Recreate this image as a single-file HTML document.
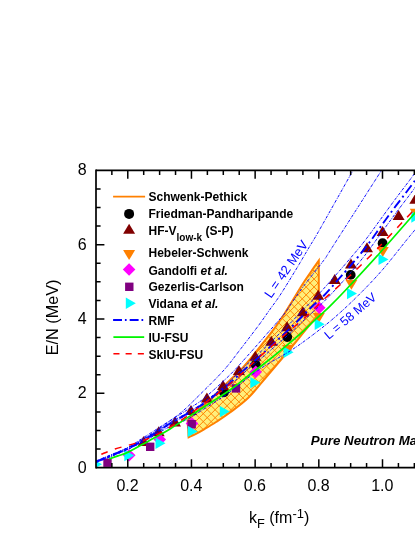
<!DOCTYPE html>
<html><head><meta charset="utf-8"><style>
html,body{margin:0;padding:0;background:#fff;}
body{width:415px;height:537px;overflow:hidden;font-family:"Liberation Sans",sans-serif;}
svg{display:block;will-change:transform;font-family:"Liberation Sans",sans-serif;}
</style></head><body>
<svg width="415" height="537" viewBox="0 0 415 537">
<rect width="415" height="537" fill="#fff"/>
<defs><clipPath id="clip"><rect x="96.0" y="170.3" width="400" height="297.2"/></clipPath></defs>
<g clip-path="url(#clip)">
<clipPath id="bandclip"><path d="M187.60 420.60 C189.00 419.17 192.63 415.10 196.00 412.00 C199.37 408.90 203.80 405.67 207.80 402.00 C211.80 398.33 216.32 393.65 220.00 390.00 C223.68 386.35 226.55 383.35 229.90 380.10 C233.25 376.85 236.80 373.92 240.10 370.50 C243.40 367.08 245.70 364.40 249.70 359.60 C253.70 354.80 259.70 347.28 264.10 341.70 C268.50 336.12 272.78 330.63 276.10 326.10 C279.42 321.57 281.35 318.60 284.00 314.50 C286.65 310.40 288.83 306.67 292.00 301.50 C295.17 296.33 299.75 288.58 303.00 283.50 C306.25 278.42 308.87 274.82 311.50 271.00 C314.13 267.18 317.58 262.33 318.80 260.60 L318.80 313.60 C317.08 315.73 311.63 322.53 308.50 326.40 C305.37 330.27 302.82 333.37 300.00 336.80 C297.18 340.23 294.82 343.13 291.60 347.00 C288.38 350.87 284.92 355.00 280.70 360.00 C276.48 365.00 271.65 370.75 266.30 377.00 C260.95 383.25 254.65 391.58 248.60 397.50 C242.55 403.42 235.42 408.42 230.00 412.50 C224.58 416.58 220.42 419.20 216.10 422.00 C211.78 424.80 207.45 427.33 204.10 429.30 C200.75 431.27 198.58 432.47 196.00 433.80 C193.42 435.13 189.83 436.72 188.60 437.30 Z"/></clipPath>
<path d="M187.60 420.60 C189.00 419.17 192.63 415.10 196.00 412.00 C199.37 408.90 203.80 405.67 207.80 402.00 C211.80 398.33 216.32 393.65 220.00 390.00 C223.68 386.35 226.55 383.35 229.90 380.10 C233.25 376.85 236.80 373.92 240.10 370.50 C243.40 367.08 245.70 364.40 249.70 359.60 C253.70 354.80 259.70 347.28 264.10 341.70 C268.50 336.12 272.78 330.63 276.10 326.10 C279.42 321.57 281.35 318.60 284.00 314.50 C286.65 310.40 288.83 306.67 292.00 301.50 C295.17 296.33 299.75 288.58 303.00 283.50 C306.25 278.42 308.87 274.82 311.50 271.00 C314.13 267.18 317.58 262.33 318.80 260.60 L318.80 313.60 C317.08 315.73 311.63 322.53 308.50 326.40 C305.37 330.27 302.82 333.37 300.00 336.80 C297.18 340.23 294.82 343.13 291.60 347.00 C288.38 350.87 284.92 355.00 280.70 360.00 C276.48 365.00 271.65 370.75 266.30 377.00 C260.95 383.25 254.65 391.58 248.60 397.50 C242.55 403.42 235.42 408.42 230.00 412.50 C224.58 416.58 220.42 419.20 216.10 422.00 C211.78 424.80 207.45 427.33 204.10 429.30 C200.75 431.27 198.58 432.47 196.00 433.80 C193.42 435.13 189.83 436.72 188.60 437.30 Z" fill="#ffee7a" stroke="none"/>
<path d="M-242.52 392.19L181.74 -32.07 M-238.56 396.15L185.70 -28.11 M-234.60 400.11L189.66 -24.15 M-230.64 404.07L193.62 -20.19 M-226.68 408.03L197.58 -16.23 M-222.72 411.99L201.54 -12.27 M-218.76 415.95L205.50 -8.31 M-214.80 419.91L209.46 -4.35 M-210.84 423.87L213.42 -0.39 M-206.88 427.83L217.38 3.57 M-202.92 431.79L221.34 7.53 M-198.96 435.75L225.30 11.49 M-195.00 439.71L229.26 15.45 M-191.04 443.67L233.22 19.41 M-187.08 447.63L237.18 23.37 M-183.12 451.59L241.14 27.33 M-179.16 455.55L245.10 31.29 M-175.20 459.51L249.06 35.25 M-171.24 463.47L253.02 39.21 M-167.28 467.43L256.98 43.17 M-163.32 471.39L260.94 47.13 M-159.36 475.35L264.90 51.09 M-155.40 479.31L268.86 55.05 M-151.44 483.27L272.82 59.01 M-147.48 487.23L276.78 62.97 M-143.52 491.19L280.74 66.93 M-139.57 495.15L284.70 70.88 M-135.61 499.11L288.66 74.84 M-131.65 503.07L292.62 78.80 M-127.69 507.03L296.58 82.76 M-123.73 510.99L300.54 86.72 M-119.77 514.95L304.50 90.68 M-115.81 518.91L308.46 94.64 M-111.85 522.87L312.42 98.60 M-107.89 526.83L316.38 102.56 M-103.93 530.79L320.34 106.52 M-99.97 534.75L324.30 110.48 M-96.01 538.71L328.26 114.44 M-92.05 542.67L332.22 118.40 M-88.09 546.63L336.18 122.36 M-84.13 550.59L340.14 126.32 M-80.17 554.55L344.10 130.28 M-76.21 558.51L348.06 134.24 M-72.25 562.47L352.02 138.20 M-68.29 566.43L355.98 142.16 M-64.33 570.39L359.94 146.12 M-60.37 574.34L363.89 150.08 M-56.41 578.30L367.85 154.04 M-52.45 582.26L371.81 158.00 M-48.49 586.22L375.77 161.96 M-44.53 590.18L379.73 165.92 M-40.57 594.14L383.69 169.88 M-36.61 598.10L387.65 173.84 M-32.65 602.06L391.61 177.80 M-28.69 606.02L395.57 181.76 M-24.73 609.98L399.53 185.72 M-20.77 613.94L403.49 189.68 M-16.81 617.90L407.45 193.64 M-12.85 621.86L411.41 197.60 M-8.89 625.82L415.37 201.56 M-4.93 629.78L419.33 205.52 M-0.97 633.74L423.29 209.48 M2.99 637.70L427.25 213.44 M6.95 641.66L431.21 217.40 M10.91 645.62L435.17 221.36 M14.87 649.58L439.13 225.32 M18.83 653.54L443.09 229.28 M22.79 657.50L447.05 233.24 M26.75 661.46L451.01 237.20 M30.71 665.42L454.97 241.16 M34.67 669.38L458.93 245.12 M38.63 673.34L462.89 249.08 M42.59 677.30L466.85 253.04 M46.55 681.26L470.81 257.00 M50.51 685.22L474.77 260.96 M54.46 689.18L478.73 264.91 M58.42 693.14L482.69 268.87 M62.38 697.10L486.65 272.83 M66.34 701.06L490.61 276.79 M70.30 705.02L494.57 280.75 M74.26 708.98L498.53 284.71 M78.22 712.94L502.49 288.67 M82.18 716.90L506.45 292.63 M86.14 720.86L510.41 296.59 M90.10 724.82L514.37 300.55 M94.06 728.78L518.33 304.51 M98.02 732.74L522.29 308.47 M101.98 736.70L526.25 312.43 M105.94 740.66L530.21 316.39 M109.90 744.62L534.17 320.35 M113.86 748.58L538.13 324.31 M117.82 752.54L542.09 328.27 M121.78 756.50L546.05 332.23 M125.74 760.46L550.01 336.19 M129.70 764.42L553.97 340.15 M133.66 768.37L557.92 344.11 M137.62 772.33L561.88 348.07 M141.58 776.29L565.84 352.03 M145.54 780.25L569.80 355.99 M149.50 784.21L573.76 359.95 M153.46 788.17L577.72 363.91 M157.42 792.13L581.68 367.87 M161.38 796.09L585.64 371.83 M165.34 800.05L589.60 375.79 M169.30 804.01L593.56 379.75 M173.26 807.97L597.52 383.71 M177.22 811.93L601.48 387.67 M181.18 815.89L605.44 391.63 M185.14 819.85L609.40 395.59 M189.10 823.81L613.36 399.55 M193.06 827.77L617.32 403.51 M197.02 831.73L621.28 407.47 M200.98 835.69L625.24 411.43 M204.94 839.65L629.20 415.39 M208.90 843.61L633.16 419.35 M212.86 847.57L637.12 423.31 M216.82 851.53L641.08 427.27 M220.78 855.49L645.04 431.23 M224.74 859.45L649.00 435.19 M228.70 863.41L652.96 439.15 M232.66 867.37L656.92 443.11 M232.66 -32.07L656.92 392.19 M228.70 -28.11L652.96 396.15 M224.74 -24.15L649.00 400.11 M220.78 -20.19L645.04 404.07 M216.82 -16.23L641.08 408.03 M212.86 -12.27L637.12 411.99 M208.90 -8.31L633.16 415.95 M204.94 -4.35L629.20 419.91 M200.98 -0.39L625.24 423.87 M197.02 3.57L621.28 427.83 M193.06 7.53L617.32 431.79 M189.10 11.49L613.36 435.75 M185.14 15.45L609.40 439.71 M181.18 19.41L605.44 443.67 M177.22 23.37L601.48 447.63 M173.26 27.33L597.52 451.59 M169.30 31.29L593.56 455.55 M165.34 35.25L589.60 459.51 M161.38 39.21L585.64 463.47 M157.42 43.17L581.68 467.43 M153.46 47.13L577.72 471.39 M149.50 51.09L573.76 475.35 M145.54 55.05L569.80 479.31 M141.58 59.01L565.84 483.27 M137.62 62.97L561.88 487.23 M133.66 66.93L557.92 491.19 M129.70 70.88L553.97 495.15 M125.74 74.84L550.01 499.11 M121.78 78.80L546.05 503.07 M117.82 82.76L542.09 507.03 M113.86 86.72L538.13 510.99 M109.90 90.68L534.17 514.95 M105.94 94.64L530.21 518.91 M101.98 98.60L526.25 522.87 M98.02 102.56L522.29 526.83 M94.06 106.52L518.33 530.79 M90.10 110.48L514.37 534.75 M86.14 114.44L510.41 538.71 M82.18 118.40L506.45 542.67 M78.22 122.36L502.49 546.63 M74.26 126.32L498.53 550.59 M70.30 130.28L494.57 554.55 M66.34 134.24L490.61 558.51 M62.38 138.20L486.65 562.47 M58.42 142.16L482.69 566.43 M54.46 146.12L478.73 570.39 M50.51 150.08L474.77 574.34 M46.55 154.04L470.81 578.30 M42.59 158.00L466.85 582.26 M38.63 161.96L462.89 586.22 M34.67 165.92L458.93 590.18 M30.71 169.88L454.97 594.14 M26.75 173.84L451.01 598.10 M22.79 177.80L447.05 602.06 M18.83 181.76L443.09 606.02 M14.87 185.72L439.13 609.98 M10.91 189.68L435.17 613.94 M6.95 193.64L431.21 617.90 M2.99 197.60L427.25 621.86 M-0.97 201.56L423.29 625.82 M-4.93 205.52L419.33 629.78 M-8.89 209.48L415.37 633.74 M-12.85 213.44L411.41 637.70 M-16.81 217.40L407.45 641.66 M-20.77 221.36L403.49 645.62 M-24.73 225.32L399.53 649.58 M-28.69 229.28L395.57 653.54 M-32.65 233.24L391.61 657.50 M-36.61 237.20L387.65 661.46 M-40.57 241.16L383.69 665.42 M-44.53 245.12L379.73 669.38 M-48.49 249.08L375.77 673.34 M-52.45 253.04L371.81 677.30 M-56.41 257.00L367.85 681.26 M-60.37 260.96L363.89 685.22 M-64.33 264.91L359.94 689.18 M-68.29 268.87L355.98 693.14 M-72.25 272.83L352.02 697.10 M-76.21 276.79L348.06 701.06 M-80.17 280.75L344.10 705.02 M-84.13 284.71L340.14 708.98 M-88.09 288.67L336.18 712.94 M-92.05 292.63L332.22 716.90 M-96.01 296.59L328.26 720.86 M-99.97 300.55L324.30 724.82 M-103.93 304.51L320.34 728.78 M-107.89 308.47L316.38 732.74 M-111.85 312.43L312.42 736.70 M-115.81 316.39L308.46 740.66 M-119.77 320.35L304.50 744.62 M-123.73 324.31L300.54 748.58 M-127.69 328.27L296.58 752.54 M-131.65 332.23L292.62 756.50 M-135.61 336.19L288.66 760.46 M-139.57 340.15L284.70 764.42 M-143.52 344.11L280.74 768.37 M-147.48 348.07L276.78 772.33 M-151.44 352.03L272.82 776.29 M-155.40 355.99L268.86 780.25 M-159.36 359.95L264.90 784.21 M-163.32 363.91L260.94 788.17 M-167.28 367.87L256.98 792.13 M-171.24 371.83L253.02 796.09 M-175.20 375.79L249.06 800.05 M-179.16 379.75L245.10 804.01 M-183.12 383.71L241.14 807.97 M-187.08 387.67L237.18 811.93 M-191.04 391.63L233.22 815.89 M-195.00 395.59L229.26 819.85 M-198.96 399.55L225.30 823.81 M-202.92 403.51L221.34 827.77 M-206.88 407.47L217.38 831.73 M-210.84 411.43L213.42 835.69 M-214.80 415.39L209.46 839.65 M-218.76 419.35L205.50 843.61 M-222.72 423.31L201.54 847.57 M-226.68 427.27L197.58 851.53 M-230.64 431.23L193.62 855.49 M-234.60 435.19L189.66 859.45 M-238.56 439.15L185.70 863.41 M-242.52 443.11L181.74 867.37" stroke="#ff8400" stroke-width="1.0" fill="none" clip-path="url(#bandclip)"/>
<path d="M187.60 420.60 C189.00 419.17 192.63 415.10 196.00 412.00 C199.37 408.90 203.80 405.67 207.80 402.00 C211.80 398.33 216.32 393.65 220.00 390.00 C223.68 386.35 226.55 383.35 229.90 380.10 C233.25 376.85 236.80 373.92 240.10 370.50 C243.40 367.08 245.70 364.40 249.70 359.60 C253.70 354.80 259.70 347.28 264.10 341.70 C268.50 336.12 272.78 330.63 276.10 326.10 C279.42 321.57 281.35 318.60 284.00 314.50 C286.65 310.40 288.83 306.67 292.00 301.50 C295.17 296.33 299.75 288.58 303.00 283.50 C306.25 278.42 308.87 274.82 311.50 271.00 C314.13 267.18 317.58 262.33 318.80 260.60 L318.80 313.60 C317.08 315.73 311.63 322.53 308.50 326.40 C305.37 330.27 302.82 333.37 300.00 336.80 C297.18 340.23 294.82 343.13 291.60 347.00 C288.38 350.87 284.92 355.00 280.70 360.00 C276.48 365.00 271.65 370.75 266.30 377.00 C260.95 383.25 254.65 391.58 248.60 397.50 C242.55 403.42 235.42 408.42 230.00 412.50 C224.58 416.58 220.42 419.20 216.10 422.00 C211.78 424.80 207.45 427.33 204.10 429.30 C200.75 431.27 198.58 432.47 196.00 433.80 C193.42 435.13 189.83 436.72 188.60 437.30 Z" fill="none" stroke="#ff8000" stroke-width="2" stroke-linejoin="miter"/>
<circle cx="224.0" cy="392.3" r="4.9" fill="#000"/>
<circle cx="255.7" cy="364.8" r="4.9" fill="#000"/>
<circle cx="287.2" cy="337.0" r="4.9" fill="#000"/>
<circle cx="350.7" cy="274.9" r="4.9" fill="#000"/>
<circle cx="382.6" cy="243.2" r="4.9" fill="#000"/>
<path d="M143.7 436.0 L149.7 446.0 L137.7 446.0 Z" fill="#800000"/>
<path d="M158.7 426.2 L164.7 436.2 L152.7 436.2 Z" fill="#800000"/>
<path d="M175.0 416.5 L181.0 426.5 L169.0 426.5 Z" fill="#800000"/>
<path d="M191.0 405.0 L197.0 415.0 L185.0 415.0 Z" fill="#800000"/>
<path d="M206.9 392.5 L212.9 402.5 L200.9 402.5 Z" fill="#800000"/>
<path d="M223.0 379.9 L229.0 389.9 L217.0 389.9 Z" fill="#800000"/>
<path d="M238.9 365.0 L244.9 375.0 L232.9 375.0 Z" fill="#800000"/>
<path d="M255.3 350.7 L261.3 360.7 L249.3 360.7 Z" fill="#800000"/>
<path d="M271.3 335.7 L277.3 345.7 L265.3 345.7 Z" fill="#800000"/>
<path d="M287.1 321.2 L293.1 331.2 L281.1 331.2 Z" fill="#800000"/>
<path d="M302.8 306.2 L308.8 316.2 L296.8 316.2 Z" fill="#800000"/>
<path d="M318.2 289.8 L324.2 299.8 L312.2 299.8 Z" fill="#800000"/>
<path d="M334.7 273.9 L340.7 283.9 L328.7 283.9 Z" fill="#800000"/>
<path d="M351.0 258.5 L357.0 268.5 L345.0 268.5 Z" fill="#800000"/>
<path d="M367.0 242.2 L373.0 252.2 L361.0 252.2 Z" fill="#800000"/>
<path d="M382.6 226.1 L388.6 236.1 L376.6 236.1 Z" fill="#800000"/>
<path d="M398.6 210.1 L404.6 220.1 L392.6 220.1 Z" fill="#800000"/>
<path d="M415.3 193.8 L421.3 203.8 L409.3 203.8 Z" fill="#800000"/>
<path d="M288.0 355.0 L294.0 345.0 L282.0 345.0 Z" fill="#ff8000"/>
<path d="M318.8 323.0 L324.8 313.0 L312.8 313.0 Z" fill="#ff8000"/>
<path d="M351.4 289.7 L357.4 279.7 L345.4 279.7 Z" fill="#ff8000"/>
<path d="M382.8 256.9 L388.8 246.9 L376.8 246.9 Z" fill="#ff8000"/>
<path d="M415.8 218.8 L421.8 208.8 L409.8 208.8 Z" fill="#ff8000"/>
<path d="M129.2 449.0 L135.5 455.3 L129.2 461.6 L122.9 455.3 Z" fill="#ff00ff"/>
<path d="M159.8 433.2 L166.1 439.5 L159.8 445.8 L153.5 439.5 Z" fill="#ff00ff"/>
<path d="M192.0 417.2 L198.3 423.5 L192.0 429.8 L185.7 423.5 Z" fill="#ff00ff"/>
<path d="M255.7 365.6 L262.0 371.9 L255.7 378.2 L249.4 371.9 Z" fill="#ff00ff"/>
<path d="M319.2 301.5 L325.5 307.8 L319.2 314.1 L312.9 307.8 Z" fill="#ff00ff"/>
<rect x="103.3" y="458.5" width="8.4" height="8.4" fill="#800080"/>
<rect x="146.0" y="442.6" width="8.4" height="8.4" fill="#800080"/>
<rect x="187.5" y="420.0" width="8.4" height="8.4" fill="#800080"/>
<rect x="231.8" y="384.2" width="8.4" height="8.4" fill="#800080"/>
<path d="M102.0 464.3 L92.0 458.6 L92.0 470.0 Z" fill="#00ffff"/>
<path d="M134.3 455.5 L124.3 449.8 L124.3 461.2 Z" fill="#00ffff"/>
<path d="M165.5 443.2 L155.5 437.5 L155.5 448.9 Z" fill="#00ffff"/>
<path d="M197.7 431.4 L187.7 425.7 L187.7 437.1 Z" fill="#00ffff"/>
<path d="M229.8 411.6 L219.8 405.9 L219.8 417.3 Z" fill="#00ffff"/>
<path d="M260.3 382.6 L250.3 376.9 L250.3 388.3 Z" fill="#00ffff"/>
<path d="M293.5 352.2 L283.5 346.5 L283.5 357.9 Z" fill="#00ffff"/>
<path d="M324.7 324.2 L314.7 318.5 L314.7 329.9 Z" fill="#00ffff"/>
<path d="M357.0 293.6 L347.0 287.9 L347.0 299.3 Z" fill="#00ffff"/>
<path d="M388.5 259.4 L378.5 253.7 L378.5 265.1 Z" fill="#00ffff"/>
<path d="M421.3 217.0 L411.3 211.3 L411.3 222.7 Z" fill="#00ffff"/>
<path d="M96.00 461.30 C99.17 460.00 109.57 455.83 115.00 453.50 C120.43 451.17 124.43 449.58 128.60 447.30 C132.77 445.02 134.77 443.18 140.00 439.80 C145.23 436.42 153.33 431.40 160.00 427.00 C166.67 422.60 173.33 418.82 180.00 413.40 C186.67 407.98 192.67 401.73 200.00 394.50 C207.33 387.27 217.33 377.45 224.00 370.00 C230.67 362.55 234.18 357.30 240.00 349.80 C245.82 342.30 253.98 331.63 258.90 325.00 C263.82 318.37 265.98 314.95 269.50 310.00 C273.02 305.05 275.63 301.97 280.00 295.30 C284.37 288.63 290.92 277.88 295.70 270.00 C300.48 262.12 304.75 254.67 308.70 248.00 C312.65 241.33 312.02 242.93 319.40 230.00 C326.78 217.07 347.40 180.33 353.00 170.40" fill="none" stroke="#0000ff" stroke-width="0.95" stroke-dasharray="3 1.1 0.8 1.1"/>
<path d="M96.00 461.50 C99.17 460.22 109.57 456.12 115.00 453.80 C120.43 451.48 123.13 450.52 128.60 447.60 C134.07 444.68 140.90 440.73 147.80 436.30 C154.70 431.87 162.97 425.72 170.00 421.00 C177.03 416.28 184.32 411.78 190.00 408.00 C195.68 404.22 197.43 403.83 204.10 398.30 C210.77 392.77 222.42 382.27 230.00 374.80 C237.58 367.33 243.92 359.80 249.60 353.50 C255.28 347.20 258.43 343.48 264.10 337.00 C269.77 330.52 278.95 320.35 283.60 314.60 C288.25 308.85 288.60 307.32 292.00 302.50 C295.40 297.68 298.67 292.78 304.00 285.70 C309.33 278.62 319.37 266.28 324.00 260.00 C328.63 253.72 322.22 262.93 331.80 248.00 C341.38 233.07 373.22 183.33 381.50 170.40" fill="none" stroke="#0000ff" stroke-width="0.95" stroke-dasharray="3 1.1 0.8 1.1"/>
<path d="M96.00 460.90 C99.17 459.60 109.33 455.50 115.00 453.10 C120.67 450.70 124.17 449.49 130.00 446.53 C135.83 443.56 143.33 439.29 150.00 435.30 C156.67 431.31 164.17 426.13 170.00 422.60 C175.83 419.07 180.00 417.02 185.00 414.10 C190.00 411.18 195.00 408.51 200.00 405.10 C205.00 401.69 210.00 397.65 215.00 393.61 C220.00 389.57 224.83 385.60 230.00 380.88 C235.17 376.16 241.00 370.04 246.00 365.30 C251.00 360.55 255.17 356.97 260.00 352.41 C264.83 347.85 270.00 342.76 275.00 337.93 C280.00 333.10 285.00 328.47 290.00 323.44 C295.00 318.42 300.00 312.91 305.00 307.78 C310.00 302.65 315.00 297.99 320.00 292.68 C325.00 287.37 330.00 281.58 335.00 275.90 C340.00 270.23 345.00 264.54 350.00 258.64 C355.00 252.75 360.00 246.96 365.00 240.54 C370.00 234.11 375.00 226.92 380.00 220.09 C385.00 213.26 390.00 206.30 395.00 199.57 C400.00 192.84 405.83 185.31 410.00 179.72 C414.17 174.12 418.33 168.29 420.00 166.00" fill="none" stroke="#0000ff" stroke-width="0.95" stroke-dasharray="3 1.1 0.8 1.1"/>
<path d="M96.00 462.66 C99.17 461.36 109.33 457.25 115.00 454.86 C120.67 452.46 124.17 451.25 130.00 448.28 C135.83 445.32 143.33 441.05 150.00 437.06 C156.67 433.07 164.17 427.89 170.00 424.36 C175.83 420.82 180.00 418.77 185.00 415.86 C190.00 412.94 195.00 410.11 200.00 406.86 C205.00 403.60 210.00 399.96 215.00 396.32 C220.00 392.68 224.83 389.24 230.00 385.02 C235.17 380.79 241.00 375.23 246.00 370.96 C251.00 366.69 255.17 363.51 260.00 359.41 C264.83 355.31 270.00 350.71 275.00 346.36 C280.00 342.00 285.00 337.85 290.00 333.30 C295.00 328.75 300.00 323.72 305.00 319.07 C310.00 314.42 315.00 310.23 320.00 305.40 C325.00 300.56 330.00 295.41 335.00 290.05 C340.00 284.70 345.00 279.08 350.00 273.27 C355.00 267.45 360.00 261.59 365.00 255.16 C370.00 248.74 375.00 241.55 380.00 234.72 C385.00 227.89 390.00 220.92 395.00 214.19 C400.00 207.46 405.83 199.94 410.00 194.34 C414.17 188.75 418.33 182.91 420.00 180.62" fill="none" stroke="#0000ff" stroke-width="0.95" stroke-dasharray="3 1.1 0.8 1.1"/>
<path d="M96.00 462.10 C99.17 460.85 109.57 456.78 115.00 454.60 C120.43 452.42 123.13 451.57 128.60 449.00 C134.07 446.43 140.90 442.95 147.80 439.20 C154.70 435.45 163.47 429.78 170.00 426.50 C176.53 423.22 182.00 422.00 187.00 419.50 C192.00 417.00 195.33 414.42 200.00 411.50 C204.67 408.58 210.00 405.25 215.00 402.00 C220.00 398.75 222.50 397.50 230.00 392.00 C237.50 386.50 250.00 375.83 260.00 369.00 C270.00 362.17 281.67 356.33 290.00 351.00 C298.33 345.67 302.67 342.50 310.00 337.00 C317.33 331.50 325.97 324.92 334.00 318.00 C342.03 311.08 350.15 303.50 358.20 295.50 C366.25 287.50 374.23 279.25 382.30 270.00 C390.37 260.75 401.15 246.70 406.60 240.00 C412.05 233.30 412.77 232.63 415.00 229.80 C417.23 226.97 419.17 224.13 420.00 223.00" fill="none" stroke="#0000ff" stroke-width="0.95" stroke-dasharray="3 1.1 0.8 1.1"/>
<path d="M96.00 461.80 C99.17 460.50 109.57 456.27 115.00 454.00 C120.43 451.73 123.13 450.93 128.60 448.20 C134.07 445.47 140.90 441.72 147.80 437.60 C154.70 433.48 163.80 427.27 170.00 423.50 C176.20 419.73 180.00 417.92 185.00 415.00 C190.00 412.08 195.00 409.33 200.00 406.00 C205.00 402.67 210.00 398.83 215.00 395.00 C220.00 391.17 224.83 387.47 230.00 383.00 C235.17 378.53 241.00 372.70 246.00 368.20 C251.00 363.70 252.67 362.62 260.00 356.00 C267.33 349.38 281.35 336.72 290.00 328.50 C298.65 320.28 306.23 312.20 311.90 306.70 C317.57 301.20 318.57 301.20 324.00 295.50 C329.43 289.80 338.83 278.93 344.50 272.50 C350.17 266.07 353.68 262.12 358.00 256.90 C362.32 251.68 366.42 246.53 370.40 241.20 C374.38 235.87 378.08 230.22 381.90 224.90 C385.72 219.58 389.48 214.42 393.30 209.30 C397.12 204.18 401.18 199.00 404.80 194.20 C408.42 189.40 412.47 183.95 415.00 180.50 C417.53 177.05 419.17 174.67 420.00 173.50" fill="none" stroke="#0000ff" stroke-width="1.9" stroke-dasharray="9.5 3.7 2 3.7"/>
<path d="M109.30 458.80 C110.75 458.32 114.78 457.03 118.00 455.90 C121.22 454.77 123.63 454.42 128.60 452.00 C133.57 449.58 140.90 445.25 147.80 441.40 C154.70 437.55 161.30 434.22 170.00 428.90 C178.70 423.58 190.00 415.98 200.00 409.50 C210.00 403.02 221.90 395.67 230.00 390.00 C238.10 384.33 242.12 380.50 248.60 375.50 C255.08 370.50 262.00 365.48 268.90 360.00 C275.80 354.52 284.20 347.47 290.00 342.60 C295.80 337.73 299.53 334.57 303.70 330.80 C307.87 327.03 310.62 324.12 315.00 320.00 C319.38 315.88 324.88 311.10 330.00 306.10 C335.12 301.10 337.37 298.90 345.70 290.00 C354.03 281.10 368.45 265.55 380.00 252.70 C391.55 239.85 408.33 220.52 415.00 212.90 C421.67 205.28 419.17 207.98 420.00 207.00" fill="none" stroke="#00f500" stroke-width="1.7"/>
<path d="M101.30 454.30 C103.58 453.42 108.88 450.98 115.00 449.00 C121.12 447.02 131.08 444.78 138.00 442.40 C144.92 440.02 149.50 438.27 156.50 434.70 C163.50 431.13 172.75 425.70 180.00 421.00 C187.25 416.30 191.67 412.67 200.00 406.50 C208.33 400.33 220.00 392.33 230.00 384.00 C240.00 375.67 250.00 365.42 260.00 356.50 C270.00 347.58 281.67 337.75 290.00 330.50 C298.33 323.25 305.00 317.58 310.00 313.00 C315.00 308.42 317.07 305.85 320.00 303.00 C322.93 300.15 322.60 300.43 327.60 295.90 C332.60 291.37 341.67 283.72 350.00 275.80 C358.33 267.88 367.57 258.72 377.60 248.40 C387.63 238.08 403.80 220.63 410.20 213.90 C416.60 207.17 415.03 208.98 416.00 208.00" fill="none" stroke="#ff0000" stroke-width="1.5" stroke-dasharray="7 7.5"/>
</g>
<g stroke="#000" stroke-width="1.7" fill="none" stroke-linecap="butt">
<path d="M96.00 169.50V468.45"/>
<path d="M96.00 170.35H416"/>
<path d="M96.00 467.60H416"/>
</g>
<path d="M111.86 170.35v4.6 M111.86 467.60v-4.6 M127.78 170.35v8.4 M127.78 467.60v-8.4 M143.70 170.35v4.6 M143.70 467.60v-4.6 M159.62 170.35v4.6 M159.62 467.60v-4.6 M175.54 170.35v4.6 M175.54 467.60v-4.6 M191.46 170.35v8.4 M191.46 467.60v-8.4 M207.38 170.35v4.6 M207.38 467.60v-4.6 M223.30 170.35v4.6 M223.30 467.60v-4.6 M239.22 170.35v4.6 M239.22 467.60v-4.6 M255.14 170.35v8.4 M255.14 467.60v-8.4 M271.06 170.35v4.6 M271.06 467.60v-4.6 M286.98 170.35v4.6 M286.98 467.60v-4.6 M302.90 170.35v4.6 M302.90 467.60v-4.6 M318.82 170.35v8.4 M318.82 467.60v-8.4 M334.74 170.35v4.6 M334.74 467.60v-4.6 M350.66 170.35v4.6 M350.66 467.60v-4.6 M366.58 170.35v4.6 M366.58 467.60v-4.6 M382.50 170.35v8.4 M382.50 467.60v-8.4 M398.42 170.35v4.6 M398.42 467.60v-4.6 M414.34 170.35v4.6 M414.34 467.60v-4.6 M96.00 449.12h4.6 M96.00 430.53h4.6 M96.00 411.94h4.6 M96.00 393.36h8.4 M96.00 374.77h4.6 M96.00 356.19h4.6 M96.00 337.61h4.6 M96.00 319.02h8.4 M96.00 300.43h4.6 M96.00 281.85h4.6 M96.00 263.26h4.6 M96.00 244.68h8.4 M96.00 226.09h4.6 M96.00 207.51h4.6 M96.00 188.92h4.6" stroke="#000" stroke-width="1.5" fill="none"/>
<g font-size="16px" fill="#000">
<text x="86.7" y="472.7" text-anchor="end">0</text>
<text x="86.7" y="398.4" text-anchor="end">2</text>
<text x="86.7" y="324.0" text-anchor="end">4</text>
<text x="86.7" y="249.7" text-anchor="end">6</text>
<text x="86.7" y="175.3" text-anchor="end">8</text>
<text x="127.6" y="491" text-anchor="middle">0.2</text>
<text x="191.3" y="491" text-anchor="middle">0.4</text>
<text x="254.9" y="491" text-anchor="middle">0.6</text>
<text x="318.6" y="491" text-anchor="middle">0.8</text>
<text x="382.3" y="491" text-anchor="middle">1.0</text>
</g>
<text transform="translate(58.3 317.4) rotate(-90)" font-size="16.25px" text-anchor="middle">E/N (MeV)</text>
<text x="249" y="522.5" font-size="16px">k<tspan font-size="12.8px" dy="5.3">F</tspan><tspan dy="-5.3"> (fm</tspan><tspan font-size="13px" dy="-5">-1</tspan><tspan dy="5">)</tspan></text>
<g font-size="12px" font-weight="bold" fill="#000">
<text x="148.5" y="201.2">Schwenk-Pethick</text>
<text x="148.5" y="218.4">Friedman-Pandharipande</text>
<text x="148.5" y="235.2">HF-V<tspan font-size="10px" dy="5.4">low-k</tspan><tspan dy="-5.4"> (S-P)</tspan></text>
<text x="148.5" y="256.9">Hebeler-Schwenk</text>
<text x="148.5" y="274.5">Gandolfi <tspan font-style="italic">et al.</tspan></text>
<text x="148.5" y="291.2">Gezerlis-Carlson</text>
<text x="148.5" y="308.2">Vidana <tspan font-style="italic">et al.</tspan></text>
<text x="148.5" y="324.6">RMF</text>
<text x="148.5" y="342.1">IU-FSU</text>
<text x="148.5" y="358.5">SkIU-FSU</text>
</g>
<path d="M113.1 196.6H145.1" stroke="#ff8000" stroke-width="1.6"/>
<circle cx="129.1" cy="213.9" r="5.0" fill="#000"/>
<path d="M129.1 223.8 L135.1 233.8 L123.1 233.8 Z" fill="#800000"/>
<path d="M129.1 260.1 L135.1 250.1 L123.1 250.1 Z" fill="#ff8000"/>
<path d="M129.1 263.2 L135.4 269.5 L129.1 275.8 L122.8 269.5 Z" fill="#ff00ff"/>
<rect x="125.1" y="282.6" width="8.4" height="8.4" fill="#800080"/>
<path d="M135.8 303.3 L125.8 297.6 L125.8 309.0 Z" fill="#00ffff"/>
<path d="M113.1 320H145.1" stroke="#0000ff" stroke-width="1.8" stroke-dasharray="8.9 2.9 1.7 3.1"/>
<path d="M113.4 337.1H144.2" stroke="#00f500" stroke-width="1.8"/>
<path d="M113.4 353.8H144.2" stroke="#ff0000" stroke-width="1.6" stroke-dasharray="6.1 6.1"/>
<text transform="translate(271.0 299.0) rotate(-55.5)" font-size="13px" fill="#0000ff">L = 42 MeV</text>
<text transform="translate(328.8 339.9) rotate(-40.3)" font-size="12.5px" fill="#0000ff">L = 58 MeV</text>
<text x="310.8" y="444.9" font-size="13.3px" font-weight="bold" font-style="italic">Pure Neutron Matter</text>
</svg>
</body></html>
